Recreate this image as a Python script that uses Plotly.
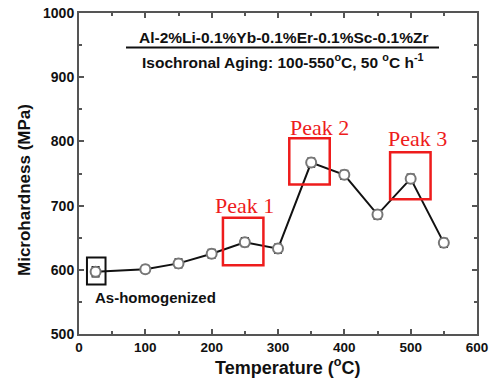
import plotly.graph_objects as go

temperature = [25, 100, 150, 200, 250, 300, 350, 400, 450, 500, 550]
microhardness = [597, 601, 610, 625, 643, 633, 767, 748, 686, 742, 642]
error = [7, 5, 6, 6, 6, 6, 6, 6, 6, 6, 6]

x_ticks = [0, 100, 200, 300, 400, 500, 600]
y_ticks = [500, 600, 700, 800, 900, 1000]

peak_labels = ["Peak 1", "Peak 2", "Peak 3"]
peak_boxes = [(217, 278, 607, 681), (317, 378, 733, 805), (469, 530, 710, 783)]
peak_text_pos = [(249, 700), (363, 822), (510, 804)]
homog_box = (12, 40, 577, 619)

W, H = 497, 388
L, R, T, B = 79, 20, 13, 54
PW, PH = W - L - R, H - T - B


def px(x):
    return (x - L) / PW


def py(y):
    return (H - B - y) / PH


fig = go.Figure()
fig.add_trace(go.Scatter(
    x=temperature, y=microhardness,
    mode="lines+markers",
    line=dict(color="#111111", width=2),
    marker=dict(symbol="circle", size=10, color="white",
                line=dict(color="#777777", width=2)),
    error_y=dict(type="data", array=error, visible=True,
                 color="#111111", thickness=2.5, width=4),
    showlegend=False,
))

shapes = []
for (x0, x1, y0, y1) in peak_boxes:
    shapes.append(dict(type="rect", xref="x", yref="y", x0=x0, x1=x1, y0=y0, y1=y1,
                       line=dict(color="#ee1c1c", width=2.5), fillcolor="rgba(0,0,0,0)"))
shapes.append(dict(type="rect", xref="x", yref="y", x0=homog_box[0], x1=homog_box[1],
                   y0=homog_box[2], y1=homog_box[3],
                   line=dict(color="#111111", width=2), fillcolor="rgba(0,0,0,0)"))
shapes.append(dict(type="line", xref="paper", yref="paper",
                   x0=px(126), x1=px(439), y0=py(47.5), y1=py(47.5),
                   line=dict(color="#111111", width=2)))

annotations = []
for lab, (tx, ty) in zip(peak_labels, peak_text_pos):
    annotations.append(dict(x=tx, y=ty, xref="x", yref="y", text=lab, showarrow=False,
                            xanchor="center", yanchor="middle",
                            font=dict(family="Liberation Serif", size=22, color="#ee1c1c")))
annotations.append(dict(x=px(93), y=py(297), xref="paper", yref="paper",
                        text="<b>As-homogenized</b>", showarrow=False,
                        xanchor="left", yanchor="middle",
                        font=dict(family="Liberation Sans", size=15, color="#111111")))
annotations.append(dict(x=px(283), y=py(37), xref="paper", yref="paper",
                        text="<b>Al-2%Li-0.1%Yb-0.1%Er-0.1%Sc-0.1%Zr</b>", showarrow=False,
                        xanchor="center", yanchor="middle",
                        font=dict(family="Liberation Sans", size=15.5, color="#111111")))
annotations.append(dict(x=px(283), y=py(61), xref="paper", yref="paper",
                        text="<b>Isochronal Aging: 100-550<sup>o</sup>C, 50 <sup>o</sup>C h<sup>-1</sup></b>",
                        showarrow=False, xanchor="center", yanchor="middle",
                        font=dict(family="Liberation Sans", size=15.5, color="#111111")))
annotations.append(dict(x=px(287), y=py(366), xref="paper", yref="paper",
                        text="<b>Temperature (<sup>o</sup>C)</b>", showarrow=False,
                        xanchor="center", yanchor="middle",
                        font=dict(family="Liberation Sans", size=18, color="#111111")))
annotations.append(dict(x=px(25), y=py(190), xref="paper", yref="paper",
                        text="<b>Microhardness (MPa)</b>", showarrow=False, textangle=-90,
                        xanchor="center", yanchor="middle",
                        font=dict(family="Liberation Sans", size=17, color="#111111")))

axis_common = dict(showgrid=False, zeroline=False, showline=True, linecolor="#555555",
                   linewidth=2, mirror="ticks", ticks="inside", ticklen=5, tickwidth=1.5,
                   tickcolor="#555555", automargin=False)

fig.update_layout(
    width=W, height=H,
    margin=dict(l=L, r=R, t=T, b=B),
    paper_bgcolor="white", plot_bgcolor="white",
    shapes=shapes, annotations=annotations,
    xaxis=dict(range=[0, 600], tickvals=x_ticks, ticktext=[f"<b>{v}</b>" for v in x_ticks],
               minor=dict(ticks="inside", dtick=50, ticklen=3, tickcolor="#555555"),
               tickfont=dict(family="Liberation Sans", size=13.5, color="#111111"),
               **axis_common),
    yaxis=dict(range=[500, 1000], tickvals=y_ticks, ticktext=[f"<b>{v}</b>" for v in y_ticks],
               minor=dict(ticks="inside", dtick=50, ticklen=3, tickcolor="#555555"),
               tickfont=dict(family="Liberation Sans", size=14, color="#111111"),
               **axis_common),
)

fig.write_html("out.html", config={"displayModeBar": False},
               post_script="document.body.style.margin='0';document.body.style.overflow='hidden';")
